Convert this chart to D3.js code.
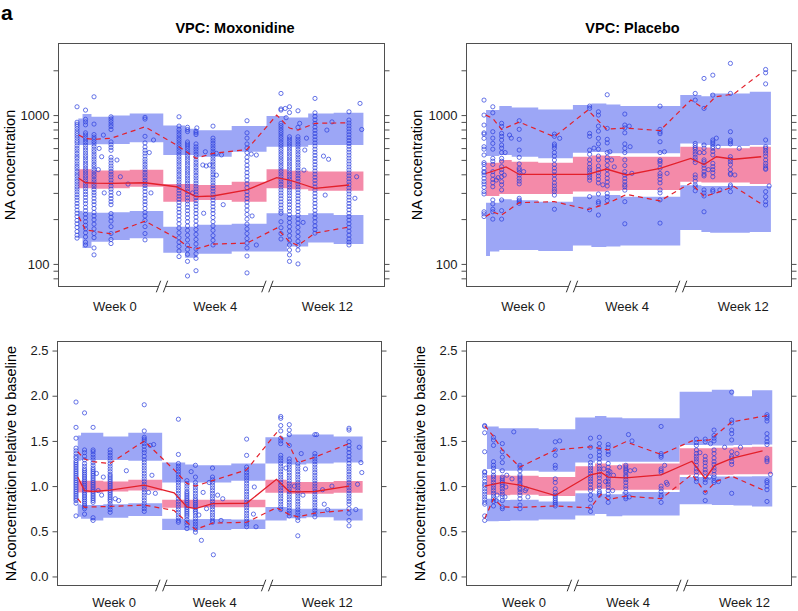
<!DOCTYPE html>
<html><head><meta charset="utf-8">
<script src="https://cdn.jsdelivr.net/npm/d3@7"></script>
<style>body{margin:0;background:#fff}svg{display:block}</style>
</head><body><svg id="chart" width="798" height="611"></svg>
<script>
// ---------- shared axis data ----------
const weekLabels = ["Week 0","Week 4","Week 12"];
const weekLabelAt = [4.4, 16.2, 29.4];
const breakAt = [10, 22.4];
const logTicks = [80,90,100,200,300,400,500,600,700,800,900,1000,2000];
const logLabels = [100,1000];
const relTicks = [0,0.5,1,1.5,2,2.5];
const colTimes = [0,1,2,4,8,12,13,14,16,20,24,25,26,28,32];

// ---------- Panel: Moxonidine, concentration ----------
const moxConcBinEdges = [[0.15,0.65,1.7,3.9,6.2,10.15],[10.15,12.7,14.1,18.2,22.3],[22.3,24.7,27.2,30.2,33.7]];
const moxConcHiTop = [950,1016,974,995,1026, 850,810,790,843, 985,965,1026,1036];
const moxConcHiBot = [629,629,636,640,656, 539,539,525,567, 613,613,629,629];
const moxConcMedTop = [432,432,425,425,430, 344,344,339,357, 432,423,417,417];
const moxConcMedBot = [322,322,320,322,330, 262,262,269,262, 322,317,310,310];
const moxConcLoTop = [227,222,221,222,227, 178,178,183,186, 219,213,219,213];
const moxConcLoBot = [149,128,141,145,149, 119,110,117,121, 121,131,139,136];
const moxConcMedian = [[0.2,376],[1,351],[2,349],[4,348],[8,351],[11.7,330],[14,283],[16,286],[20,314],[23.5,380],[25,366],[26,351],[28,322],[32,339]];
const moxConcP95 = [[0.2,734],[1,695],[2,687],[4,698],[8,834],[11.7,629],[14,512],[16,553],[20,587],[23.5,1000],[25,818],[26,793],[28,880],[32,888]];
const moxConcP5 = [[0.2,207],[1,169],[2,166],[4,159],[8,194],[11.7,149],[13,131],[14,126],[16,136],[20,138],[23.5,174],[25,141],[26,133],[28,161],[32,177]];
const moxConcObs = [
 [1137,895,868,842,810,780,752,726,700,672,650,622,598,575,552,530,512,490,470,452,436,418,402,388,372,358,344,330,318,305,292,280,268,255,243,230,219,208,196,186,176,165,156,149],
 [1080,936,900,860,760,735,705,680,655,628,602,580,556,534,515,494,475,458,440,424,408,392,378,362,348,334,320,306,293,280,266,254,240,228,216,204,192,182,172,162,152,140,134],
 [1327,870,740,712,690,664,640,616,590,568,546,525,505,485,466,450,432,416,400,386,370,356,342,330,316,302,290,276,262,250,236,222,210,198,185,172,160,150,128,115],
 [974,940,905,870,838,800,660,632,606,580,520,498,476,455,436,418,400,384,366,350,334,318,304,288,275,262,250,218,206,194,178,160,146,137],
 [965,940,720,650,610,580,555,530,505,485,466,448,430,412,396,380,364,350,336,322,306,290,276,262,250,236,222,210,196,178,160,145],
 [974,843,800,770,740,712,686,660,636,612,590,568,546,525,505,486,468,450,432,416,400,385,370,355,340,326,312,298,285,272,259,246,234,222,210,198,186,174,162,150,140,131,122,112],
 [828,800,775,660,640,620,598,576,555,534,514,495,476,458,440,424,408,392,377,362,348,334,320,306,292,278,265,252,240,228,216,204,192,180,168,156,145,134,125,116,104,83],
 [780,760,740,640,612,590,566,544,522,500,480,462,444,426,410,393,378,362,348,333,319,305,292,279,266,254,242,230,218,206,194,182,170,158,146,136,126,117,109,90],
 [843,700,672,646,620,596,572,550,528,507,487,468,450,432,415,398,382,366,351,336,322,308,294,281,268,255,242,230,218,205,192,180,168,155,144,134],
 [916,760,700,640,600,560,520,490,460,435,410,388,366,345,325,306,290,275,260,245,230,215,200,185,172,160,148,138,128,113,87],
 [1398,1100,1080,880,850,820,790,762,735,708,682,656,632,610,588,566,545,525,506,487,469,451,434,418,402,386,371,356,342,328,314,300,287,274,261,249,237,226,219,192,175,160,147],
 [1137,1040,715,690,665,640,616,592,570,548,527,507,488,469,451,434,417,401,385,370,355,341,327,313,300,287,274,262,250,238,226,214,202,190,178,166,155,144,134,124,115,104],
 [1069,827,715,688,662,637,612,588,565,543,522,501,481,462,443,425,408,391,375,359,344,329,315,301,287,274,261,248,236,224,212,200,188,176,164,153,142,133,124,100],
 [1294,1036,980,930,880,830,790,752,716,682,650,619,590,562,536,511,487,464,442,421,401,382,364,346,329,313,298,283,269,255,242,229,216,204,192,180,170,161],
 [1052,926,885,846,808,772,738,705,674,644,616,589,563,538,514,491,469,448,428,409,391,373,356,340,324,309,295,281,268,255,243,231,219,208,197,186,176,166,156,147,140,134]
];
const moxConcExtra = [[2.6,597],[2.9,525],[3.1,734],[4.7,499],[5.1,385],[6,344],[9,680],[2.5,430],[3.2,300],[4.9,298],[8.5,560],[8.7,300],[14.1,820],[14.8,462],[15.2,455],[15.6,462],[16.4,395],[16.4,553],[17,540],[20.5,547],[21.1,539],[14.9,219],[21.1,134],[15.1,567],[13.6,300],[17.2,250],[20.6,210],[33.3,1198],[33.5,800],[29.4,793],[29.6,505],[29.2,290],[29,530],[26.8,582],[26.7,427],[24.5,1108],[32.9,385],[32.7,276],[26.6,190],[27,700],[30,900],[26.2,880],[24.6,960]];

// ---------- Panel: Placebo, concentration ----------
const plaConcBinEdges = [[0.23,0.68,1.74,3.15,6.16,10.1],[10.1,12.2,13.9,15.5,22.3],[22.3,24.7,25.7,30.2,32.6]];
const plaConcHiTop = [1080,1080,1150,1126,1092, 1167,1198,1180,1149, 1362,1340,1398,1434];
const plaConcHiBot = [531,531,539,525,512, 559,565,553,553, 645,629,619,629];
const plaConcMedTop = [479,479,499,486,479, 525,535,530,525, 612,605,598,612];
const plaConcMedBot = [286,286,295,295,295, 306,306,310,314, 357,352,352,344];
const plaConcLoTop = [258,258,272,268,262, 283,288,290,283, 338,334,334,334];
const plaConcLoBot = [113,121,124,124,122, 133,130,131,133, 169,164,162,164];
const plaConcMedian = [[0.2,405],[2.5,448],[4,399],[11.8,399],[13.9,434],[16.2,396],[20,439],[23.5,512],[25,465],[26.4,525],[28.4,505],[31.5,525]];
const plaConcP95 = [[0.2,1000],[1,950],[2,799],[4,898],[8,715],[11.8,1080],[13.9,806],[16,818],[20,787],[23.5,1261],[25,1106],[26.3,1327],[28.4,1387],[31.3,1880]];
const plaConcP5 = [[0.2,208],[1,223],[2,213],[4,258],[8,262],[11.8,232],[13.9,253],[16.2,293],[20,265],[23.5,350],[25,284],[26.4,300],[28.4,332],[31.5,253]];
const plaConcObs = [
 [1261,1000,857,760,745,698,613,590,539,479,466,439,417,410,396,376,357,344,327,306,295,224,217,208],
 [1137,1036,773,700,645,590,512,490,466,417,395,370,351,330,269,253,233,224,200],
 [880,840,753,720,680,629,600,560,512,490,450,430,410,385,357,340,314,269,228,200],
 [916,802,687,582,520,470,440,428,410,395,376,360,345,276,268,262,255],
 [745,720,639,620,598,560,530,499,466,440,418,396,372,350,334,318,306,290,233],
 [1149,1109,753,720,582,545,500,470,445,428,410,395,380,365,283,231],
 [1052,1000,843,780,698,640,590,530,500,455,430,410,390,370,350,295,262,255,213],
 [1370,814,687,650,560,520,495,460,430,400,376,355,334,298,283,266],
 [1016,857,820,760,640,598,560,500,458,417,395,375,357,340,330,313,262,186],
 [1149,802,770,750,662,560,499,488,470,440,405,390,370,350,314,300,269,188],
 [1398,1261,645,625,605,590,565,545,520,500,480,396,380,360,340,330,310],
 [1763,1109,629,600,560,500,486,460,440,417,400,390,314,300,286,224],
 [1855,1362,680,660,640,615,598,570,540,474,450,430,410,385,314,306],
 [2225,1398,773,680,662,640,525,505,486,465,430,406,398,339,330,306],
 [2025,1923,1620,680,613,598,575,555,530,499,474,455,439,432,306,283,262,249]
];
const plaConcExtra = [[2.9,734],[1.4,366],[4.5,417],[3.1,700],[1.6,380],[8.6,698],[2.4,560],[2.3,395],[14.3,567],[14.5,499],[14.8,449],[16.6,613],[16.5,843],[16.8,406],[20.5,567],[20.8,406],[12.5,600],[13.5,340],[26.6,613],[26.8,314],[28.5,396],[29,598],[32.4,334],[24.5,560],[25.5,430],[26.4,700]];

// ---------- Panel: Moxonidine, relative to baseline ----------
const moxRelBinEdges = [[0.2,0.59,1.64,3.2,6.13,10.1],[10.1,12.8,14.1,18.2,22.2],[22.2,24.7,27,30.2,33.6]];
const moxRelHiTop = [1.56,1.59,1.59,1.55,1.59, 1.26,1.24,1.23,1.25, 1.54,1.57,1.57,1.55];
const moxRelHiBot = [1.28,1.29,1.29,1.29,1.28, 1.04,1.04,1.04,1.06, 1.25,1.24,1.25,1.26];
const moxRelMedTop = [1.06,1.06,1.06,1.05,1.07, 0.85,0.85,0.85,0.85, 1.07,1.045,1.045,1.055];
const moxRelMedBot = [0.93,0.93,0.93,0.94,0.95, 0.76,0.755,0.765,0.765, 0.925,0.915,0.915,0.925];
const moxRelLoTop = [0.80,0.79,0.79,0.80,0.81, 0.64,0.63,0.635,0.63, 0.77,0.75,0.75,0.75];
const moxRelLoBot = [0.66,0.64,0.62,0.65,0.67, 0.515,0.51,0.515,0.525, 0.62,0.645,0.655,0.62];
const moxRelMedian = [[0.2,1.10],[1,0.95],[2,0.94],[4,0.955],[8,1.01],[11.5,0.925],[13,0.77],[14,0.75],[16,0.805],[20,0.81],[23.5,1.075],[25,0.94],[26,0.935],[28,0.94],[32,1.0]];
const moxRelP95 = [[0.2,1.38],[1,1.30],[2,1.27],[4,1.25],[8,1.50],[11.5,1.18],[13,1.03],[14,1.0],[16,1.06],[20,1.18],[23.5,1.59],[25,1.45],[26,1.26],[28,1.32],[32,1.47]];
const moxRelP5 = [[0.2,0.86],[1,0.765],[2,0.77],[4,0.775],[8,0.79],[11.5,0.73],[13,0.60],[14,0.52],[16,0.59],[20,0.60],[23.5,0.76],[25,0.685],[26,0.66],[28,0.70],[32,0.735]];
const moxRelObs = [
 [1.93,1.65,1.53,1.42,1.39,1.36,1.33,1.31,1.28,1.26,1.24,1.22,1.20,1.18,1.16,1.14,1.12,1.10,1.08,1.06,1.04,1.02,1.00,0.98,0.96,0.94,0.92,0.90,0.88,0.86,0.84,0.81,0.67],
 [1.81,1.40,1.37,1.33,1.29,1.25,1.22,1.19,1.17,1.15,1.13,1.11,1.09,1.07,1.05,1.03,1.01,0.99,0.97,0.95,0.93,0.91,0.89,0.87,0.85,0.83,0.81,0.79,0.77,0.75,0.69],
 [1.65,1.40,1.38,1.35,1.32,1.29,1.26,1.23,1.20,1.18,1.16,1.14,1.12,1.10,1.08,1.06,1.04,1.02,1.00,0.98,0.96,0.94,0.92,0.90,0.88,0.86,0.84,0.82,0.65,0.62],
 [1.40,1.37,1.34,1.31,1.28,1.25,1.22,1.19,1.16,1.13,1.11,1.09,1.07,1.05,1.03,1.01,0.99,0.97,0.95,0.93,0.91,0.89,0.87,0.85,0.83,0.80,0.77,0.74,0.71],
 [1.90,1.61,1.54,1.52,1.50,1.47,1.44,1.40,1.37,1.33,1.29,1.26,1.23,1.20,1.17,1.14,1.11,1.08,1.05,1.02,0.99,0.96,0.93,0.90,0.87,0.84,0.81,0.78,0.75,0.72],
 [1.74,1.35,1.25,1.22,1.19,1.16,1.13,1.10,1.07,1.04,1.01,0.98,0.95,0.92,0.89,0.86,0.83,0.80,0.77,0.74,0.71,0.68,0.65,0.62,0.60],
 [1.06,1.03,1.00,0.97,0.94,0.92,0.90,0.88,0.86,0.84,0.82,0.80,0.78,0.76,0.74,0.72,0.70,0.68,0.66,0.63,0.60,0.57,0.53],
 [1.23,1.10,1.04,1.01,0.98,0.95,0.92,0.89,0.86,0.84,0.82,0.80,0.78,0.76,0.74,0.72,0.70,0.67,0.64,0.61,0.58,0.55,0.52,0.49],
 [1.20,1.10,1.07,1.04,1.01,0.98,0.95,0.92,0.89,0.86,0.83,0.80,0.77,0.74,0.71,0.68,0.65,0.62,0.60],
 [1.52,1.34,1.21,1.18,1.15,1.12,1.09,1.06,1.03,1.00,0.97,0.94,0.91,0.88,0.85,0.82,0.79,0.76,0.73,0.70,0.67,0.64,0.61,0.58,0.55],
 [1.77,1.75,1.67,1.61,1.53,1.50,1.47,1.34,1.31,1.28,1.25,1.22,1.19,1.16,1.13,1.10,1.07,1.04,1.01,0.98,0.95,0.92,0.89,0.86,0.83,0.80,0.77,0.74],
 [1.68,1.62,1.57,1.45,1.30,1.27,1.24,1.21,1.18,1.15,1.12,1.09,1.06,1.03,1.00,0.97,0.94,0.91,0.88,0.85,0.82,0.79,0.76,0.73,0.70,0.67],
 [1.25,1.22,1.19,1.16,1.13,1.10,1.07,1.04,1.01,0.98,0.95,0.92,0.89,0.86,0.83,0.80,0.77,0.74,0.71,0.68,0.65,0.62,0.45],
 [1.57,1.36,1.33,1.30,1.27,1.24,1.21,1.18,1.15,1.12,1.09,1.06,1.03,1.00,0.97,0.94,0.91,0.88,0.85,0.82,0.79,0.76,0.73,0.70,0.66],
 [1.64,1.62,1.49,1.45,1.41,1.37,1.33,1.29,1.25,1.22,1.19,1.16,1.13,1.10,1.07,1.04,1.01,0.98,0.95,0.92,0.89,0.86,0.83,0.80,0.75,0.70,0.62,0.56]
];
const moxRelExtra = [[2.4,1.14],[2.6,0.95],[3,0.90],[5,0.84],[5.9,1.17],[8.5,0.93],[8.7,1.45],[8.9,1.12],[3.2,1.10],[4.6,0.86],[9.1,1.46],[9.3,0.92],[13.5,1.16],[14.7,0.40],[14.9,0.93],[15.3,0.75],[16.1,0.24],[16.6,0.90],[17.2,0.86],[20.8,0.69],[20.9,0.99],[21.1,0.55],[15.6,1.04],[14.4,0.68],[17,0.62],[26.4,1.36],[26.9,1.19],[26.6,0.90],[28.2,1.57],[28.9,0.96],[29.1,0.80],[29.5,0.74],[33.2,1.43],[33.4,1.26],[33.5,1.15],[32.8,0.74],[33,1.02],[24.6,1.20],[25.6,1.0],[30,1.0]];

// ---------- Panel: Placebo, relative to baseline ----------
const plaRelBinEdges = [[0.26,1.59,2.9,6.12,10.27],[10.27,12.5,13.8,15.6,22.1],[22.1,25.75,28.2,30.3,32.6]];
const plaRelHiTop = [1.66,1.64,1.64,1.63, 1.76,1.775,1.76,1.75, 2.045,2.065,1.995,2.06];
const plaRelHiBot = [1.19,1.17,1.17,1.16, 1.26,1.28,1.27,1.27, 1.455,1.45,1.455,1.46];
const plaRelMedTop = [1.12,1.12,1.115,1.10, 1.22,1.25,1.23,1.25, 1.42,1.425,1.43,1.435];
const plaRelMedBot = [0.905,0.90,0.905,0.89, 0.95,0.97,0.955,0.96, 1.125,1.125,1.13,1.13];
const plaRelLoTop = [0.86,0.845,0.85,0.83, 0.92,0.915,0.91,0.935, 1.10,1.105,1.105,1.11];
const plaRelLoBot = [0.61,0.615,0.62,0.63, 0.675,0.69,0.665,0.675, 0.80,0.79,0.785,0.775];
const plaRelMedian = [[0,1.0],[2,1.04],[4,1.01],[8,0.895],[12,1.125],[13.2,1.15],[14,1.10],[16,1.09],[20,1.125],[23.5,1.275],[25,1.085],[26.1,1.23],[28.1,1.31],[31.5,1.39]];
const plaRelP95 = [[0,1.67],[1,1.55],[2,1.40],[4,1.21],[8,1.40],[12,1.435],[14,1.40],[16,1.49],[20,1.35],[23.5,1.50],[25.5,1.51],[28,1.71],[32,1.78]];
const plaRelP5 = [[0,0.64],[1,0.86],[2,0.77],[4,0.765],[8,0.78],[12,0.76],[13.2,0.91],[14,0.85],[16,0.89],[20,0.86],[23.5,1.13],[25,0.93],[26.2,1.05],[28,1.11],[31.5,0.96]];
const plaRelObs = [
 [1.67,1.66,1.59,1.38,1.16,1.15,1.12,1.09,1.05,1.02,1.00,0.97,0.94,0.91,0.88,0.85,0.82,0.80,0.67,0.62],
 [1.54,1.51,1.45,1.27,1.23,1.20,1.16,1.12,1.10,1.07,1.04,1.01,0.98,0.95,0.92,0.89,0.86,0.83,0.78],
 [1.47,1.38,1.32,1.26,1.17,1.10,1.08,1.06,1.04,1.02,1.00,0.97,0.94,0.91,0.88,0.84,0.77,0.75],
 [1.23,1.21,1.17,1.12,1.10,1.08,1.06,1.03,1.01,0.98,0.96,0.93,0.90,0.86,0.79,0.75],
 [1.49,1.40,1.34,1.23,1.20,1.08,1.04,0.97,0.93,0.90,0.88,0.86,0.84,0.82,0.80,0.78],
 [1.53,1.43,1.33,1.26,1.23,1.20,1.17,1.14,1.11,1.08,1.05,1.02,0.98,0.95,0.90,0.85,0.77,0.72],
 [1.54,1.47,1.42,1.38,1.34,1.30,1.26,1.22,1.19,1.16,1.12,1.09,1.05,1.01,0.98,0.94,0.92,0.90],
 [1.46,1.43,1.38,1.35,1.25,1.21,1.17,1.14,1.11,1.08,1.05,1.02,0.99,0.95,0.91,0.87,0.82],
 [1.23,1.21,1.19,1.17,1.15,1.12,1.10,1.07,1.04,1.00,0.97,0.93,0.88,0.86],
 [1.66,1.36,1.34,1.32,1.19,1.17,1.15,1.00,0.97,0.94,0.90,0.88,0.82],
 [1.52,1.48,1.45,1.40,1.36,1.33,1.30,1.27,1.23,1.19,1.16,1.12,1.08,1.05],
 [1.52,1.49,1.33,1.29,1.26,1.22,1.18,1.15,1.10,1.07,1.04,0.93,0.84],
 [1.62,1.56,1.53,1.50,1.40,1.36,1.31,1.27,1.24,1.20,1.17,1.13,1.10,1.06,1.04],
 [2.04,1.73,1.70,1.62,1.58,1.51,1.38,1.33,1.31,1.27,1.24,0.92],
 [1.79,1.77,1.75,1.72,1.58,1.53,1.49,1.46,1.31,1.29,1.27,1.06,1.04,1.00,0.96,0.83]
];
const plaRelExtra = [[1.4,0.90],[2.4,0.99],[2.3,0.88],[3.1,1.08],[3.3,1.60],[4.6,0.95],[4.9,0.88],[4.7,0.97],[8.5,1.50],[1.3,0.84],[2.5,1.12],[13.5,1.19],[14.2,1.16],[14.6,1.12],[15.3,1.21],[13.7,1.05],[14.5,0.95],[16.3,1.57],[16.7,1.50],[16.5,1.17],[16.4,0.88],[17,1.18],[20.4,1.23],[20.7,1.02],[20.6,1.04],[25.5,1.10],[26.5,1.05],[27.2,1.43],[28.6,1.36],[29,1.43],[32.4,1.13],[25.6,1.47],[24.4,1.37]];

// ---------- styling / layout ----------
const FONT = '"Liberation Sans", Arial, Helvetica, sans-serif';
const BLUE_BAND = "#9ca6f6";
const PINK_BAND = "#f48aa9";
const RED = "#e3202b";
const PT = "#2d40dd";
const FRAME = "#4f4f4f";

const panels = [
 {x:[58.5,384.5], y:[43.5,286.5], xd:[-2.18,36.18], log:true, yd:[70.5,3027], xPad:15,
  title:"VPC: Moxonidine", titleX:235, ylab:"NA concentration", ylabX:15,
  edges:moxConcBinEdges, hiTop:moxConcHiTop, hiBot:moxConcHiBot, medTop:moxConcMedTop, medBot:moxConcMedBot, loTop:moxConcLoTop, loBot:moxConcLoBot,
  median:moxConcMedian, p95:moxConcP95, p5:moxConcP5, obs:moxConcObs, extra:moxConcExtra},
 {x:[466.5,791.5], y:[43.5,286.5], xd:[-1.99,34.94], log:true, yd:[70.5,3027], xPad:15,
  title:"VPC: Placebo", titleX:632.5, ylab:"NA concentration", ylabX:422,
  edges:plaConcBinEdges, hiTop:plaConcHiTop, hiBot:plaConcHiBot, medTop:plaConcMedTop, medBot:plaConcMedBot, loTop:plaConcLoTop, loBot:plaConcLoBot,
  median:plaConcMedian, p95:plaConcP95, p5:plaConcP5, obs:plaConcObs, extra:plaConcExtra},
 {x:[57.5,381.5], y:[341.5,585.5], xd:[-2.17,35.81], log:false, yd:[-0.1,2.6], xPad:12.5,
  ylab:"NA concentration relative to baseline", ylabX:16,
  edges:moxRelBinEdges, hiTop:moxRelHiTop, hiBot:moxRelHiBot, medTop:moxRelMedTop, medBot:moxRelMedBot, loTop:moxRelLoTop, loBot:moxRelLoBot,
  median:moxRelMedian, p95:moxRelP95, p5:moxRelP5, obs:moxRelObs, extra:moxRelExtra},
 {x:[466.5,791.5], y:[341.5,585.5], xd:[-2.06,34.78], log:false, yd:[-0.1,2.6], xPad:12.5,
  ylab:"NA concentration relative to baseline", ylabX:425,
  edges:plaRelBinEdges, hiTop:plaRelHiTop, hiBot:plaRelHiBot, medTop:plaRelMedTop, medBot:plaRelMedBot, loTop:plaRelLoTop, loBot:plaRelLoBot,
  median:plaRelMedian, p95:plaRelP95, p5:plaRelP5, obs:plaRelObs, extra:plaRelExtra}
];

const svg = d3.select("#chart");
svg.append("rect").attr("width",798).attr("height",611).attr("fill","#fff");

svg.append("text").attr("x",1).attr("y",20).attr("font-family",FONT).attr("font-weight","bold")
  .attr("font-size",21).attr("fill","#000").text("a");

panels.forEach(p => {
  const g = svg.append("g");
  const x = d3.scaleLinear().domain(p.xd).range(p.x);
  const y = (p.log ? d3.scaleLog() : d3.scaleLinear()).domain(p.yd).range([p.y[1], p.y[0]]);

  const clipId = "clip" + Math.round(p.x[0]) + "_" + Math.round(p.y[0]);
  g.append("clipPath").attr("id", clipId).append("rect")
    .attr("x", p.x[0]).attr("y", p.y[0]).attr("width", p.x[1]-p.x[0]).attr("height", p.y[1]-p.y[0]);
  const inner = g.append("g").attr("clip-path", `url(#${clipId})`);

  // bins -> step bands
  const bins = [];
  p.edges.forEach(w => { for (let i = 0; i < w.length - 1; i++) bins.push([w[i], w[i+1]]); });
  const band = (bot, top) => bins.flatMap((b,i) => [{t:b[0], lo:bot[i], hi:top[i]}, {t:b[1], lo:bot[i], hi:top[i]}]);
  const area = d3.area().x(d => x(d.t)).y0(d => y(d.lo)).y1(d => y(d.hi));
  inner.append("path").attr("d", area(band(p.loBot, p.loTop))).attr("fill", BLUE_BAND);
  inner.append("path").attr("d", area(band(p.hiBot, p.hiTop))).attr("fill", BLUE_BAND);
  inner.append("path").attr("d", area(band(p.medBot, p.medTop))).attr("fill", PINK_BAND);

  // observations
  const pts = [];
  colTimes.forEach((t,i) => p.obs[i].forEach(v => pts.push([t, v])));
  p.extra.forEach(d => pts.push(d));
  inner.selectAll(null).data(pts).join("circle")
    .attr("cx", d => x(d[0])).attr("cy", d => y(d[1])).attr("r", 2.1)
    .attr("fill", "none").attr("stroke", PT).attr("stroke-width", 0.8).attr("stroke-opacity", 0.9);

  // observed percentile lines
  const line = d3.line().x(d => x(d[0])).y(d => y(d[1]));
  inner.append("path").datum(p.median).attr("d", line).attr("fill","none").attr("stroke",RED).attr("stroke-width",1.3);
  [p.p95, p.p5].forEach(L => inner.append("path").datum(L).attr("d", line).attr("fill","none")
     .attr("stroke",RED).attr("stroke-width",1.2).attr("stroke-dasharray","5,4"));

  // frame
  g.append("rect").attr("x", p.x[0]).attr("y", p.y[0]).attr("width", p.x[1]-p.x[0]).attr("height", p.y[1]-p.y[0])
    .attr("fill","none").attr("stroke",FRAME).attr("stroke-width",1);

  // y axes
  const ticks = p.log ? logTicks : relTicks;
  const fmt = p.log ? (v => logLabels.includes(v) ? String(v) : "") : d3.format(".1f");
  const ax = g.append("g").attr("transform", `translate(${p.x[0]},0)`)
    .call(d3.axisLeft(y).tickValues(ticks).tickSize(5).tickPadding(4).tickFormat(fmt));
  const axr = g.append("g").attr("transform", `translate(${p.x[1]},0)`)
    .call(d3.axisRight(y).tickValues(ticks).tickSize(5).tickFormat(""));
  // bottom axis (labels only)
  const axb = g.append("g").attr("transform", `translate(0,${p.y[1]})`)
    .call(d3.axisBottom(x).tickValues(weekLabelAt).tickSize(0).tickPadding(p.xPad).tickFormat((d,i) => weekLabels[i]));
  [ax, axr, axb].forEach(a => {
    a.select(".domain").remove();
    a.attr("font-family", FONT).attr("font-size", 13);
    a.selectAll("line").attr("stroke", FRAME);
    a.selectAll("text").attr("fill", "#1a1a1a");
  });

  // axis breaks
  breakAt.forEach(b => {
    const cx = x(b), yb = p.y[1];
    g.append("rect").attr("x", cx-3.5).attr("y", yb-1.5).attr("width", 7).attr("height", 3).attr("fill", "#fff");
    [-3.5, 3.5].forEach(o => g.append("line")
      .attr("x1", cx+o-2.2).attr("y1", yb+5.8).attr("x2", cx+o+2.2).attr("y2", yb-5.8)
      .attr("stroke", "#333").attr("stroke-width", 1));
  });

  // titles
  if (p.title) svg.append("text").attr("x", p.titleX).attr("y", 33).attr("text-anchor","middle")
    .attr("font-family",FONT).attr("font-weight","bold").attr("font-size",14.5).attr("fill","#000").text(p.title);
  const yc = (p.y[0]+p.y[1])/2;
  svg.append("text").attr("transform", `translate(${p.ylabX},${yc}) rotate(-90)`).attr("text-anchor","middle")
    .attr("font-family",FONT).attr("font-size",14.5).attr("fill","#000").text(p.ylab);
});
</script>
</body></html>
